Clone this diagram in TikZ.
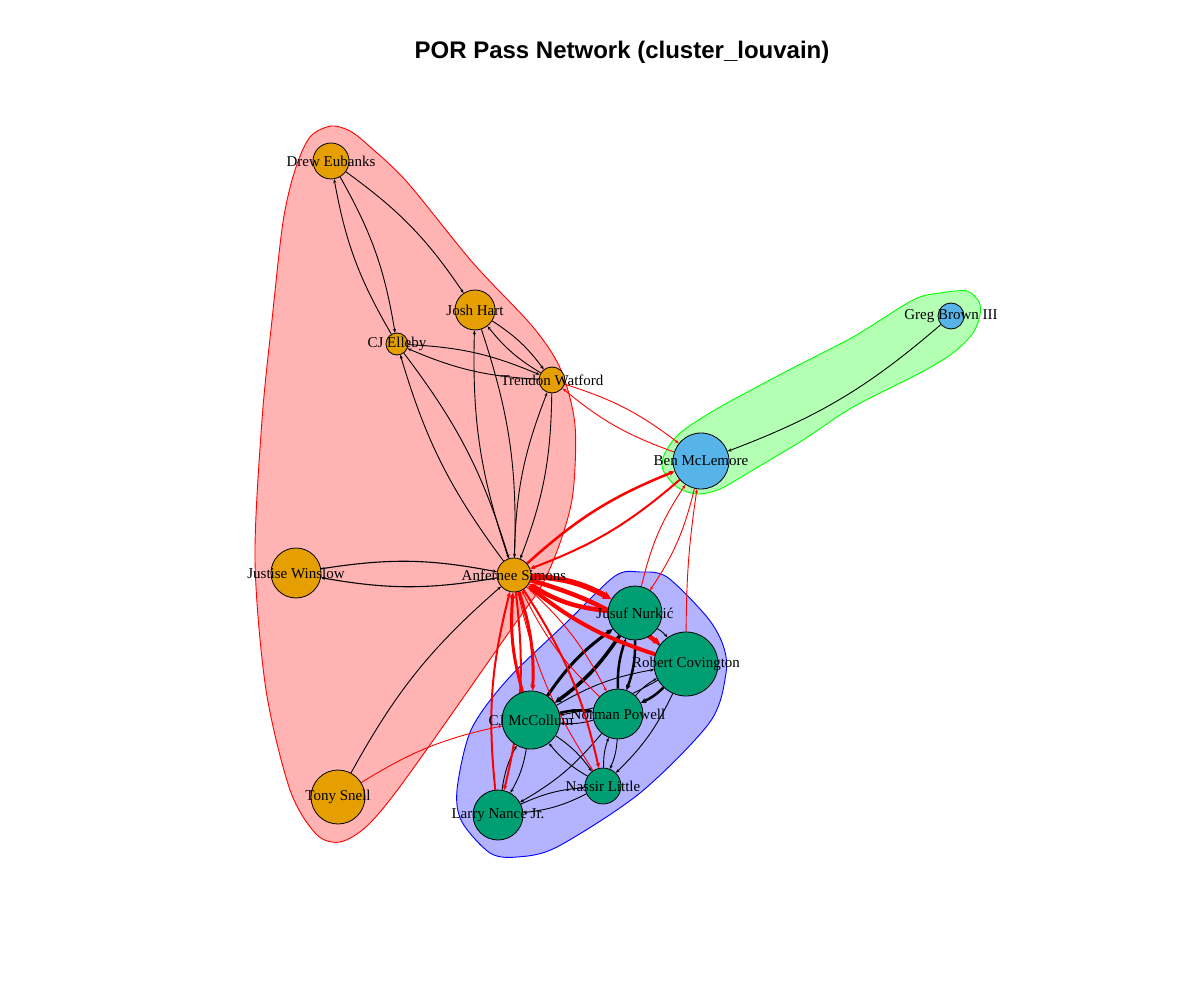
\documentclass[tikz,border=0pt]{standalone}
\usepackage{fontspec}
\setmainfont{Liberation Serif}
\newfontfamily\headfont{Liberation Sans}
\usetikzlibrary{arrows.meta}
\definecolor{goldP}{HTML}{E69F00}
\definecolor{greenP}{HTML}{009E73}
\definecolor{blueP}{HTML}{56B4E9}
\definecolor{pinkH}{RGB}{255,179,179}
\definecolor{greenH}{RGB}{179,255,179}
\definecolor{blueH}{RGB}{179,179,255}
\pgfdeclarelayer{hulls}
\pgfdeclarelayer{links}
\pgfsetlayers{hulls,links,main}

\begin{document}
\begin{tikzpicture}[x=1pt, y=-1pt,
    player/.style={circle, draw=black, line width=0.8pt, inner sep=0pt, minimum size=#1},
    gold/.style={player=#1, fill=goldP},
    teal/.style={player=#1, fill=greenP},
    sky/.style={player=#1, fill=blueP},
    tag/.style={font=\fontsize{15}{15}\selectfont, text=black, inner sep=0pt},
    link/.style={draw=black, line width=#1, bend left=10,
      -{Stealth[length=3pt 1, width=2pt 1.2]}},
    link/.default=0.9pt,
    cross/.style={link=#1, draw=red},
    cross/.default=0.9pt]

  \useasboundingbox (0,0) rectangle (1200,1000);

  % title
  \node[font=\headfont\bfseries\fontsize{24}{24}\selectfont] (title) at (622,52)
    {POR Pass Network (cluster\_louvain)};

  % players
  %% group 1
  \node[gold=36] (drew) at (331,161) {};
  \node[gold=40] (josh) at (475,310) {};
  \node[gold=22] (elleby) at (397,344) {};
  \node[gold=26] (watford) at (552,380) {};
  \node[gold=50] (justise) at (296,573) {};
  \node[gold=34] (simons) at (514,575) {};
  \node[gold=54] (snell) at (338,797) {};
  %% group 2
  \node[sky=56] (ben) at (701,461) {};
  \node[sky=26] (greg) at (951,316) {};
  %% group 3
  \node[teal=54] (nurkic) at (635,613) {};
  \node[teal=64] (covington) at (686,664) {};
  \node[teal=58] (mccollum) at (531,720) {};
  \node[teal=50] (powell) at (618,714) {};
  \node[teal=36] (nassir) at (603,786) {};
  \node[teal=50] (nance) at (498,815) {};

  % names
  \node[tag] (drew-t) at (drew) {Drew Eubanks};
  \node[tag] (josh-t) at (josh) {Josh Hart};
  \node[tag] (elleby-t) at (elleby) {CJ Elleby};
  \node[tag] (watford-t) at (watford) {Trendon Watford};
  \node[tag] (justise-t) at (justise) {Justise Winslow};
  \node[tag] (simons-t) at (simons) {Anfernee Simons};
  \node[tag] (snell-t) at (snell) {Tony Snell};
  \node[tag] (ben-t) at (ben) {Ben McLemore};
  \node[tag] (greg-t) at (greg) {Greg Brown III};
  \node[tag] (nurkic-t) at (nurkic) {Jusuf Nurkić};
  \node[tag] (covington-t) at (covington) {Robert Covington};
  \node[tag] (mccollum-t) at (mccollum) {CJ McCollum};
  \node[tag] (powell-t) at (powell) {Norman Powell};
  \node[tag] (nassir-t) at (nassir) {Nassir Little};
  \node[tag] (nance-t) at (nance) {Larry Nance Jr.};

  % passes
  \begin{pgfonlayer}{links}
    %% inside group 1
    \draw[link] (drew) to (elleby);
    \draw[link] (elleby) to (drew);
    \draw[link] (drew) to (josh);
    \draw[link] (elleby) to (watford);
    \draw[link] (watford) to (elleby);
    \draw[link] (josh) to (watford);
    \draw[link] (watford) to (josh);
    \draw[link] (josh) to (simons);
    \draw[link] (simons) to (josh);
    \draw[link] (elleby) to (simons);
    \draw[link] (simons) to (elleby);
    \draw[link] (watford) to (simons);
    \draw[link] (simons) to (watford);
    \draw[link=1.1pt] (justise) to (simons);
    \draw[link=1.1pt] (simons) to (justise);
    \draw[link] (snell) to (simons);
    %% inside group 2
    \draw[link] (greg) to (ben);
    %% inside group 3
    \draw[link=3.5pt] (nurkic) to (mccollum);
    \draw[link=3pt] (mccollum) to (nurkic);
    \draw[link=2.5pt] (nurkic) to (powell);
    \draw[link=2.5pt] (powell) to (nurkic);
    \draw[link] (nurkic) to (covington);
    \draw[link] (covington) to (nurkic);
    \draw[link=2.5pt] (covington) to (powell);
    \draw[link] (powell) to (covington);
    \draw[link] (covington) to (mccollum);
    \draw[link] (mccollum) to (covington);
    \draw[link] (covington) to (nassir);
    \draw[link=2.5pt] (mccollum) to (powell);
    \draw[link] (powell) to (mccollum);
    \draw[link] (mccollum) to (nassir);
    \draw[link] (nassir) to (mccollum);
    \draw[link] (mccollum) to (nance);
    \draw[link] (nance) to (mccollum);
    \draw[link] (powell) to (nassir);
    \draw[link] (nassir) to (powell);
    \draw[link] (powell) to (nance);
    \draw[link] (nance) to (nassir);
    \draw[link] (nassir) to (nance);
    %% between groups
    \draw[cross] (watford) to (ben);
    \draw[cross] (ben) to (watford);
    \draw[cross=2.5pt] (simons) to (ben);
    \draw[cross=2pt] (ben) to (simons);
    \draw[cross=5.5pt, bend left=13] (simons) to (nurkic);
    \draw[cross=4.5pt, bend left=13] (nurkic) to (simons);
    \draw[cross=4.5pt] (simons) to (covington);
    \draw[cross=4pt] (covington) to (simons);
    \draw[cross=3pt] (simons) to (mccollum);
    \draw[cross=3pt] (mccollum) to (simons);
    \draw[cross=2pt] (simons) to (nance);
    \draw[cross=2pt] (nance) to (simons);
    \draw[cross=2pt] (simons) to (nassir);
    \draw[cross] (nassir) to (simons);
    \draw[cross] (simons) to (powell);
    \draw[cross] (powell) to (simons);
    \draw[cross] (snell) to (mccollum);
    \draw[cross] (ben) to (nurkic);
    \draw[cross] (nurkic) to (ben);
    \draw[cross, bend left=4] (covington) to (ben);
  \end{pgfonlayer}

  % groups
  \begin{pgfonlayer}{hulls}
    \fill[white] (0,0) rectangle (1200,1000);
    %% group 1
    \filldraw[fill=pinkH, draw=red, line width=0.9pt] plot[smooth cycle, tension=0.5] coordinates {
      (331,126) (350,131) (368,145) (407,182) (473,263) (533,327) (561,370)
      (575,425) (573,493) (561,540) (542,585) (512,628) (407,777) (368,825)
      (340,842) (316,834) (290,790) (266,690) (255,560) (262,420) (272,320)
      (283,222) (295,170) (310,137)};
    %% group 2
    \filldraw[fill=greenH, draw=green, line width=0.9pt] plot[smooth cycle, tension=0.5] coordinates {
      (940,293) (967,291) (979,302) (980,315) (973,333) (953,353) (920,373)
      (853,407) (803,440) (753,470) (720,489) (697,494) (677,487) (663,470)
      (664,455) (680,433) (720,407) (787,371) (853,337) (913,300)};
    %% group 3
    \filldraw[fill=blueH, draw=blue, line width=0.9pt] plot[smooth cycle, tension=0.5] coordinates {
      (640,572) (667,577) (707,617) (723,645) (726,673) (710,722) (640,793)
      (557,847) (517,857) (490,853) (462,822) (457,790) (471,730) (507,680)
      (567,622) (615,576)};
  \end{pgfonlayer}
\end{tikzpicture}
\end{document}
